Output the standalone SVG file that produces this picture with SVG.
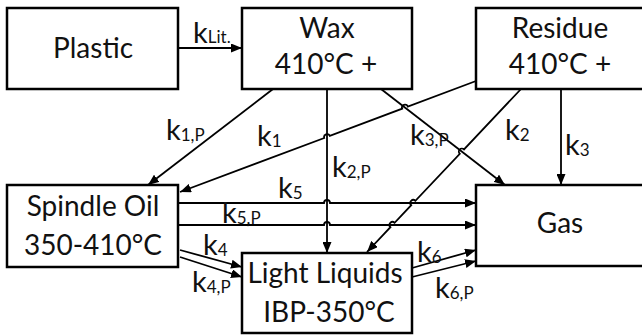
<svg xmlns="http://www.w3.org/2000/svg" width="642" height="336" viewBox="0 0 642 336">
<defs>
<marker id="ah" markerUnits="userSpaceOnUse" markerWidth="11" markerHeight="9" refX="11" refY="4.5" orient="auto">
<path d="M0,0 L11,4.5 L0,9 z" fill="#000"/>
</marker>
<style>
.box{fill:#fff;stroke:#000;stroke-width:2.5}
.t{font-family:Lato,"Liberation Sans",sans-serif;font-size:28px;fill:#111;text-anchor:middle}
.c{fill:none;stroke:#000;stroke-width:1.8;marker-end:url(#ah)}
.k{font-family:Lato,"Liberation Sans",sans-serif;font-size:29px;fill:#111}
.s{font-size:17px}
</style>
</defs>
<rect width="642" height="336" fill="#fff"/>
<g id="plastic"><rect class="box" x="7" y="8" width="171" height="81"/><text class="t" x="93" y="58">Plastic</text></g>
<g id="wax"><rect class="box" x="242" y="8" width="170" height="81"/><text class="t" x="327" y="38">Wax</text><text class="t" x="326" y="74">410°C +</text></g>
<g id="residue"><rect class="box" x="476" y="8" width="170" height="81"/><text class="t" x="560" y="38">Residue</text><text class="t" x="560" y="74">410°C +</text></g>
<g id="spindle"><rect class="box" x="7" y="185" width="171" height="82"/><text class="t" x="93" y="216">Spindle Oil</text><text class="t" x="93" y="255">350-410°C</text></g>
<g id="light"><rect class="box" x="242" y="253" width="170" height="80"/><text class="t" x="325" y="283">Light Liquids</text><text class="t" x="329" y="322">IBP-350°C</text></g>
<g id="gas"><rect class="box" x="476" y="185" width="170" height="81"/><text class="t" x="560" y="233">Gas</text></g>
<g id="connectors">
<path class="c" d="M178,48 H242"/>
<path class="c" d="M273,89 L148,185"/>
<path class="c" d="M476,81 L407.8,106.5 A3,3 0 0 0 402.2,108.7 L329.8,135.9 A3,3 0 0 0 324.2,138 L180,192"/>
<path class="c" d="M327,89 V253"/>
<path class="c" d="M381,89 L505,185"/>
<path class="c" d="M521,89 L464,149.4 A3,3 0 0 0 459.8,153.8 L415.4,200.8 A3,3 0 0 0 411.2,205.2 L394.6,222.8 A3,3 0 0 0 390.4,227.2 L367,252"/>
<path class="c" d="M561,89 V185"/>
<path class="c" d="M178,203 H324 A3,3 0 0 1 330,203 H476"/>
<path class="c" d="M178,225 H324 A3,3 0 0 1 330,225 H476"/>
<path class="c" d="M180,250 L242,267"/>
<path class="c" d="M180,257 L242,277"/>
<path class="c" d="M412,268 L476,250"/>
<path class="c" d="M412,277 L476,261"/>
</g>
<g id="labels">
<text class="k" x="193" y="43">k<tspan class="s">Lit.</tspan></text>
<text class="k" x="166" y="140">k<tspan class="s" dy="1">1,P</tspan></text>
<text class="k" x="257" y="146">k<tspan class="s" dy="1">1</tspan></text>
<text class="k" x="332" y="177">k<tspan class="s" dy="1">2,P</tspan></text>
<text class="k" x="410" y="145">k<tspan class="s" dy="1">3,P</tspan></text>
<text class="k" x="505" y="140">k<tspan class="s" dy="1">2</tspan></text>
<text class="k" x="565" y="155">k<tspan class="s" dy="1">3</tspan></text>
<text class="k" x="278" y="198">k<tspan class="s" dy="1">5</tspan></text>
<text class="k" x="222" y="223">k<tspan class="s" dy="1">5,P</tspan></text>
<text class="k" x="203" y="255">k<tspan class="s" dy="1">4</tspan></text>
<text class="k" x="192" y="292">k<tspan class="s" dy="1">4,P</tspan></text>
<text class="k" x="417" y="262">k<tspan class="s" dy="1">6</tspan></text>
<text class="k" x="435" y="298">k<tspan class="s" dy="1">6,P</tspan></text>
</g>
</svg>
